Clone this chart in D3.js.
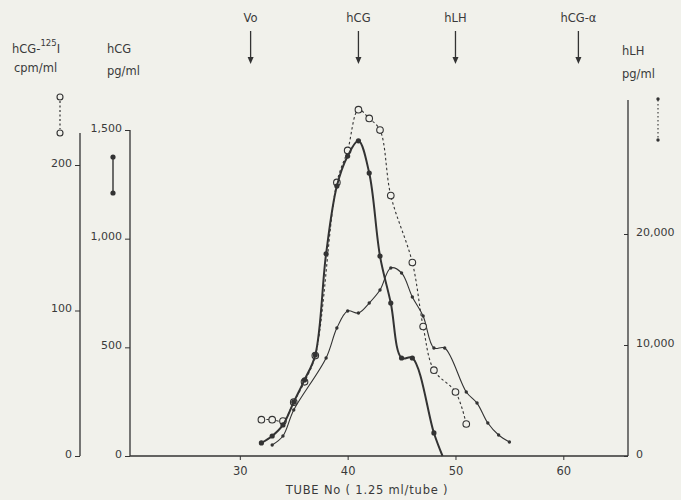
<!DOCTYPE html>
<html><head><meta charset="utf-8">
<script src="https://cdn.jsdelivr.net/npm/d3@7"></script>
<style>
html,body{margin:0;padding:0;background:#f1f1eb;}
svg{display:block;}
text{font-family:"DejaVu Sans",sans-serif;fill:#3a3a3a;}
</style></head><body>
<svg id="c" width="681" height="500"></svg>
<script>
// ---- data ----
const hcgTube = [32,33,34,35,36,37,38,39,40,41,42,43,44,45,46,48,48.8];
const hcgPg   = [60,92,143,248,350,465,930,1242,1380,1450,1302,920,704,451,451,106,0];

const cpmTube = [32,33,34,35,36,37,39,40,41,42,43,44,46,47,48,50,51];
const cpmVal  = [25,25,24,37,51,69,188,210,238,232,224,179,133,89,59,44,22];

const lhTube = [33,34,35,38,39,40,41,42,43,44,45,46,47,48,49,51,52,53,54,55];
const lhPg   = [990,1800,4140,8830,11530,13060,12880,13780,14950,16940,16490,14320,12610,9730,9730,5770,4770,2970,1890,1260];

const xTicks   = [30,40,50,60];
const cpmTicks = [0,100,200];
const hcgTicks = [0,500,1000,1500];
const lhTicks  = [0,10000,20000];

const markerNames = ["Vo","hCG","hLH","hCG-\u03b1"];
const markerTubes = [31,41,50,61.4];

// ---- layout ----
const svg = d3.select("#c");
const ink = "#333";
const base = 456;
const x = d3.scaleLinear().domain([20,66]).range([132,628]);
const yHcg = d3.scaleLinear().domain([0,1500]).range([base,130]);
const yCpm = d3.scaleLinear().domain([0,200]).range([base,165]);
const yLh  = d3.scaleLinear().domain([0,20000]).range([base,234]);

// bottom axis
const gx = svg.append("g").attr("transform",`translate(0,${base})`)
  .call(d3.axisBottom(x).tickValues(xTicks).tickSize(4).tickPadding(7).tickFormat(d3.format("d")));
gx.select(".domain").remove();
gx.selectAll("line").attr("stroke",ink);
gx.selectAll("text").attr("font-size",11.5).attr("fill","#3a3a3a");
svg.append("line").attr("x1",130).attr("x2",x(66)).attr("y1",base).attr("y2",base)
  .attr("stroke",ink).attr("stroke-width",1.4);
svg.append("text").attr("x",367).attr("y",494).attr("text-anchor","middle")
  .attr("font-size",11.5).attr("letter-spacing",0.8).text("TUBE  No  ( 1.25 ml/tube )");

// cpm axis
const gc = svg.append("g").attr("transform","translate(80,0)")
  .call(d3.axisLeft(yCpm).tickValues(cpmTicks).tickSize(5).tickPadding(3).tickFormat(d3.format("d")));
gc.select(".domain").remove();
gc.selectAll("line").attr("stroke",ink);
gc.selectAll("text").attr("font-size",11).attr("dy","0.1em");
svg.append("line").attr("x1",80).attr("x2",80).attr("y1",133).attr("y2",base)
  .attr("stroke",ink).attr("stroke-width",1.3);

// hCG axis
const gh = svg.append("g").attr("transform","translate(130,0)")
  .call(d3.axisLeft(yHcg).tickValues(hcgTicks).tickSize(5).tickPadding(3).tickFormat(d3.format(",")));
gh.select(".domain").remove();
gh.selectAll("line").attr("stroke",ink);
gh.selectAll("text").attr("font-size",11).attr("dy","0.1em");
svg.append("line").attr("x1",130).attr("x2",130).attr("y1",130).attr("y2",base)
  .attr("stroke",ink).attr("stroke-width",1.3);

// hLH axis (right)
const gl = svg.append("g").attr("transform",`translate(${x(66)},0)`)
  .call(d3.axisRight(yLh).tickValues(lhTicks).tickSize(-4).tickPadding(8).tickFormat(d3.format(",")));
gl.select(".domain").remove();
gl.selectAll("line").attr("stroke",ink);
gl.selectAll("text").attr("font-size",11).attr("dy","0.1em");
svg.append("line").attr("x1",x(66)).attr("x2",x(66)).attr("y1",100).attr("y2",base)
  .attr("stroke",ink).attr("stroke-width",1.3);

// header labels
const h1 = svg.append("text").attr("x",12).attr("y",53).attr("font-size",11.5);
h1.append("tspan").text("hCG-");
h1.append("tspan").attr("dy",-7).attr("font-size",8.5).text("125");
h1.append("tspan").attr("dy",7).text("I");
svg.append("text").attr("x",14).attr("y",72).attr("font-size",11.5).text("cpm/ml");
svg.append("text").attr("x",107).attr("y",53).attr("font-size",11.5).text("hCG");
svg.append("text").attr("x",107).attr("y",75).attr("font-size",11.5).text("pg/ml");
svg.append("text").attr("x",622).attr("y",55).attr("font-size",11.5).text("hLH");
svg.append("text").attr("x",622).attr("y",78).attr("font-size",11.5).text("pg/ml");

// top arrows
markerNames.forEach((n,i)=>{
  const mx = x(markerTubes[i]);
  svg.append("text").attr("x",mx).attr("y",22).attr("text-anchor","middle").attr("font-size",11.5).text(n);
  svg.append("line").attr("x1",mx).attr("x2",mx).attr("y1",31).attr("y2",58).attr("stroke",ink).attr("stroke-width",1.3);
  svg.append("path").attr("d",`M${mx-3},57 L${mx+3},57 L${mx},64 Z`).attr("fill",ink);
});

// legend keys
svg.append("line").attr("x1",60).attr("x2",60).attr("y1",101).attr("y2",129)
  .attr("stroke",ink).attr("stroke-width",1.2).attr("stroke-dasharray","2,2.5");
[97,133].forEach(yy=>svg.append("circle").attr("cx",60).attr("cy",yy).attr("r",3)
  .attr("fill","none").attr("stroke",ink).attr("stroke-width",1.1));
svg.append("line").attr("x1",113).attr("x2",113).attr("y1",157).attr("y2",193)
  .attr("stroke",ink).attr("stroke-width",1.4);
[157,193].forEach(yy=>svg.append("circle").attr("cx",113).attr("cy",yy).attr("r",2.6).attr("fill",ink));
svg.append("line").attr("x1",658).attr("x2",658).attr("y1",100).attr("y2",139)
  .attr("stroke",ink).attr("stroke-width",1.1).attr("stroke-dasharray","1.5,2.5");
[99,140].forEach(yy=>svg.append("circle").attr("cx",658).attr("cy",yy).attr("r",1.7).attr("fill",ink));

// ---- series ----
const hcgData = hcgTube.map((t,i)=>({t,v:hcgPg[i]}));
const cpmData = cpmTube.map((t,i)=>({t,v:cpmVal[i]}));
const lhData  = lhTube.map((t,i)=>({t,v:lhPg[i]}));

// hLH thin line
svg.append("path").datum(lhData)
  .attr("d",d3.line().x(d=>x(d.t)).y(d=>yLh(d.v)).curve(d3.curveCatmullRom.alpha(0.5)))
  .attr("fill","none").attr("stroke",ink).attr("stroke-width",1.1);
svg.selectAll(".lh").data(lhData).join("circle").attr("cx",d=>x(d.t)).attr("cy",d=>yLh(d.v))
  .attr("r",1.7).attr("fill",ink);

// cpm dashed
svg.append("path").datum(cpmData)
  .attr("d",d3.line().x(d=>x(d.t)).y(d=>yCpm(d.v)).curve(d3.curveCatmullRom.alpha(0.5)))
  .attr("fill","none").attr("stroke",ink).attr("stroke-width",1.1).attr("stroke-dasharray","2.5,2.5");
svg.selectAll(".cp").data(cpmData).join("circle").attr("cx",d=>x(d.t)).attr("cy",d=>yCpm(d.v))
  .attr("r",3.3).attr("fill","#f1f1eb").attr("stroke",ink).attr("stroke-width",1.1);

// hCG bold solid
svg.append("path").datum(hcgData)
  .attr("d",d3.line().x(d=>x(d.t)).y(d=>yHcg(d.v)).curve(d3.curveCatmullRom.alpha(0.5)))
  .attr("fill","none").attr("stroke",ink).attr("stroke-width",2);
svg.selectAll(".hc").data(hcgData.filter(d=>d.v>0)).join("circle").attr("cx",d=>x(d.t)).attr("cy",d=>yHcg(d.v))
  .attr("r",2.6).attr("fill",ink);
</script>
</body></html>
